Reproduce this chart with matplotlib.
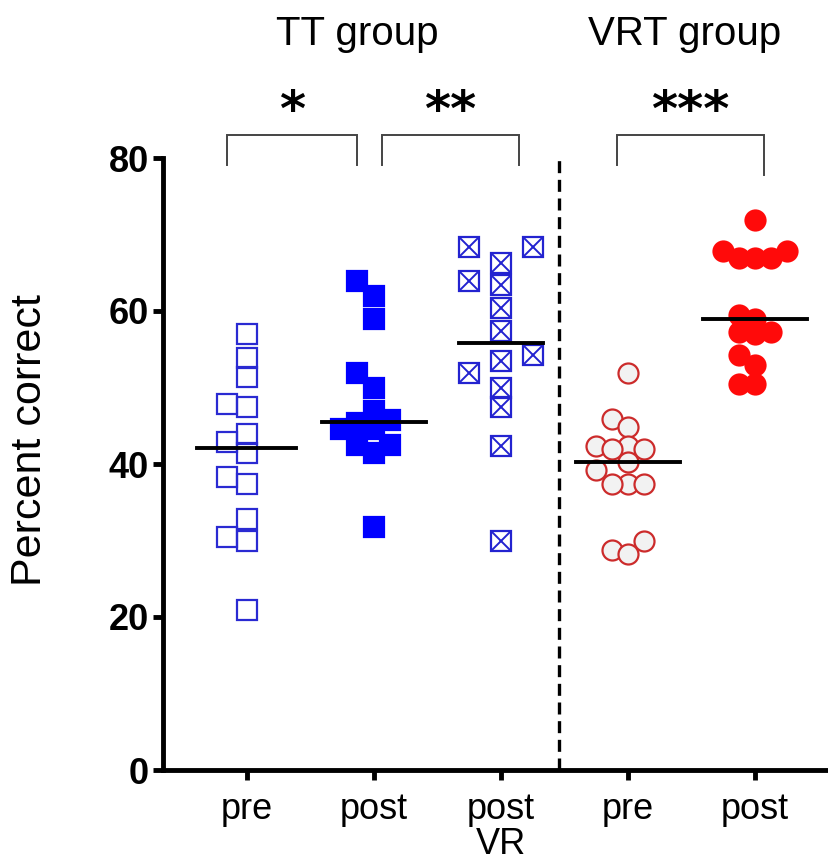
import matplotlib
matplotlib.use('Agg')
import matplotlib.pyplot as plt
import numpy as np

plt.rcParams['font.family'] = ['Liberation Sans', 'DejaVu Sans']

# values (percent correct)
tt_pre = [57.0, 53.9, 51.4, 47.9, 47.4, 43.9, 42.9, 41.4, 38.3, 37.4, 32.8, 30.4, 29.9, 20.9]
tt_post = [63.9, 61.9, 58.9, 51.9, 49.9, 46.9, 45.8, 45.3, 44.6, 44.6, 42.5, 42.5, 41.4, 31.8]
tt_post_vr = [68.4, 68.4, 66.3, 63.9, 63.4, 60.4, 57.4, 54.3, 53.4, 51.9, 49.9, 47.4, 42.4, 29.9]
vrt_pre = [51.9, 45.9, 44.9, 42.4, 42.4, 41.9, 41.9, 40.3, 39.2, 37.4, 37.4, 37.4, 30.0, 28.8, 28.3]
vrt_post = [71.9, 67.9, 67.9, 66.9, 66.9, 66.9, 59.5, 59.0, 57.3, 57.3, 57.0, 54.3, 53.0, 50.4, 50.4]

categories = ['pre', 'post', 'post\nVR', 'pre', 'post']
group_titles = ['TT group', 'VRT group']
yticks = [0, 20, 40, 60, 80]

# significance brackets: (left category, right category, label)
brackets = [(0, 1, '*'), (1, 2, '**'), (3, 4, '***')]


def swarm(vals, step, min_dist, px_x, px_y):
    """greedy beeswarm (lowest value first), returns x offsets in data units"""
    vals = np.asarray(vals)
    order = np.argsort(vals, kind='stable')
    placed = []
    offs = np.zeros(len(vals))
    for idx in order:
        v = vals[idx]
        k = 0
        while True:
            ok = False
            for cand in ([0] if k == 0 else [-k, k]):
                ox = cand * step
                ok = True
                for (px, py) in placed:
                    dx = (ox - px) * px_x
                    dy = (v - py) * px_y
                    if np.hypot(dx, dy) < min_dist:
                        ok = False
                        break
                if ok:
                    break
            if ok:
                break
            k += 1
        placed.append((ox, v))
        offs[idx] = ox
    return offs


fig = plt.figure(figsize=(8.29, 8.65), dpi=100)
ax = fig.add_axes([163 / 829, 95 / 865, 666 / 829, 612 / 865])
ax.set_xlim(-0.661, 4.583)
ax.set_ylim(0, 80)

px_x = 127.0   # pixels per category
px_y = 7.65    # pixels per percent

ms = 14.4
series = [
    dict(vals=tt_pre, step=0.16, dist=19, marker='s', mfc='none', mec='#2a2ad2', cross=False),
    dict(vals=tt_post, step=0.13, dist=17, marker='s', mfc='#0000ff', mec='#0000ff', cross=False),
    dict(vals=tt_post_vr, step=0.25, dist=19, marker='s', mfc='none', mec='#2323d0', cross=True),
    dict(vals=vrt_pre, step=0.126, dist=16, marker='o', mfc='#f2f2f2', mec='#cc2b2b', cross=False),
    dict(vals=vrt_post, step=0.126, dist=15, marker='o', mfc='#ff0a0a', mec='#ff0a0a', cross=False),
]
half_w = [0.39, 0.41, 0.33, 0.41, 0.41]

for i, s in enumerate(series):
    vals = np.array(s['vals'])
    xs = i + swarm(vals, s['step'], s['dist'], px_x, px_y)
    ax.plot(xs, vals, ls='none', marker=s['marker'], ms=ms, mfc=s['mfc'],
            mec=s['mec'], mew=1.6, zorder=3, clip_on=False)
    if s['cross']:
        ax.plot(xs, vals, ls='none', marker='x', ms=ms, mec=s['mec'], mew=1.4,
                zorder=3, clip_on=False)
    med = np.median(vals)
    ax.plot([i - half_w[i], i + half_w[i]], [med, med], color='black', lw=2.8, zorder=4)

# dashed separator between groups
ax.plot([2.46, 2.46], [0, 80.5], color='black', lw=2.4, ls=(0, (3.6, 2.0)),
        clip_on=False, zorder=2)

# significance brackets and stars
bracket_x = {(0, 1): (-0.16, 0.87), (1, 2): (1.06, 2.14), (3, 4): (2.91, 4.07)}
for a, b, lab in brackets:
    xa, xb = bracket_x[(a, b)]
    low_r = 77.8 if a == 3 else 79.1
    ax.plot([xa, xa, xb, xb], [79.1, 83.0, 83.0, low_r], color='#444444', lw=1.4,
            clip_on=False, solid_joinstyle='miter')
    ax.text((xa + xb) / 2, 86.0, lab, ha='center', va='center', fontsize=36,
            fontweight='bold', family='DejaVu Sans', clip_on=False)

# group titles
ax.text(0.87, 96.2, group_titles[0], ha='center', va='center', fontsize=29)
ax.text(3.45, 96.2, group_titles[1], ha='center', va='center', fontsize=29)

# axes styling
for side in ['top', 'right']:
    ax.spines[side].set_visible(False)
for side in ['left', 'bottom']:
    ax.spines[side].set_linewidth(3.5)
ax.set_yticks(yticks)
ax.set_yticklabels([str(t) for t in yticks], fontsize=26, fontweight='bold')
ax.set_xticks(range(len(categories)))
ax.set_xticklabels(categories, fontsize=26, linespacing=1.0)
ax.tick_params(axis='both', length=7, width=3.5, direction='out')
ax.tick_params(axis='x', pad=9)
ax.tick_params(axis='y', pad=3)
ax.set_ylabel('Percent correct', fontsize=31)
ax.yaxis.set_label_coords(-0.17, 0.54)

fig.savefig('out.png', dpi=100)
